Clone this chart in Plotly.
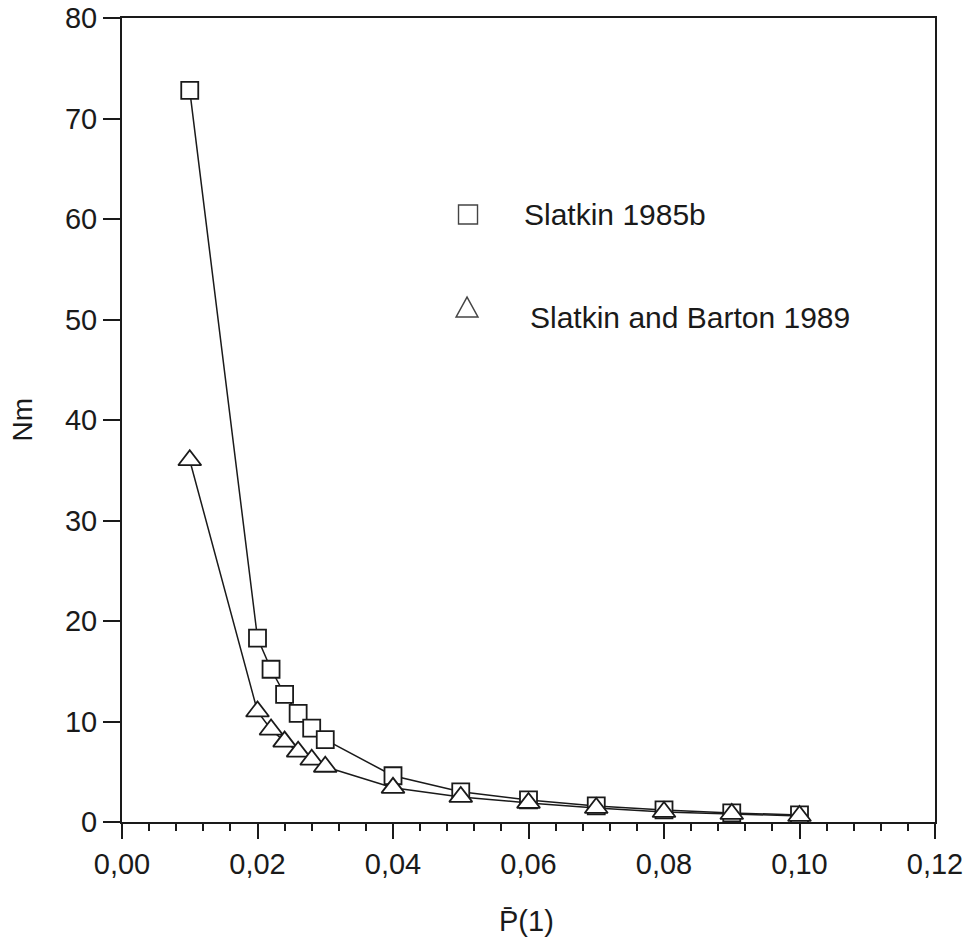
import plotly.graph_objects as go

p_vals = [0.01, 0.02, 0.022, 0.024, 0.026, 0.028, 0.03, 0.04, 0.05, 0.06, 0.07, 0.08, 0.09, 0.10]
nm_slatkin1985 = [72.8, 18.3, 15.2, 12.7, 10.8, 9.35, 8.2, 4.6, 3.0, 2.2, 1.6, 1.2, 0.9, 0.7]
nm_slatkin_barton = [36.0, 11.0, 9.2, 8.0, 7.0, 6.2, 5.5, 3.4, 2.5, 1.9, 1.4, 1.0, 0.8, 0.6]
series_names = ["Slatkin 1985b", "Slatkin and Barton 1989"]
x_ticks = [0.00, 0.02, 0.04, 0.06, 0.08, 0.10, 0.12]
y_ticks = [0, 10, 20, 30, 40, 50, 60, 70, 80]
x_title = "P\u0304(1)"
y_title = "Nm"

ink = "#1a1a1a"
font = "Liberation Sans, Arial, sans-serif"

fig = go.Figure()
fig.add_trace(go.Scatter(
    x=p_vals, y=nm_slatkin1985, mode="lines+markers", name=series_names[0],
    line=dict(color=ink, width=1.5),
    marker=dict(symbol="square", size=17, color="white", line=dict(color=ink, width=1.8)),
    showlegend=False))
fig.add_trace(go.Scatter(
    x=p_vals, y=nm_slatkin_barton, mode="lines+markers", name=series_names[1],
    line=dict(color=ink, width=1.5),
    marker=dict(symbol="triangle-up", size=20, color="white", line=dict(color=ink, width=1.8)),
    showlegend=False))

# legend drawn as shapes + annotations
fig.add_shape(type="rect", xref="paper", yref="paper", xsizemode="pixel", ysizemode="pixel",
              xanchor=0.4256, yanchor=0.7556, x0=-9.5, x1=9.5, y0=-9.5, y1=9.5,
              line=dict(color="#444", width=1.4), fillcolor="white")
fig.add_shape(type="path", xref="paper", yref="paper", xsizemode="pixel", ysizemode="pixel",
              xanchor=0.4244, yanchor=0.6405, path="M -11,-10 L 11,-10 L 0,10 Z",
              line=dict(color="#444", width=1.4), fillcolor="white")
fig.add_annotation(x=0.492, y=0.7550, xref="paper", yref="paper", xanchor="left",
                   yanchor="middle", text=series_names[0], showarrow=False,
                   font=dict(family=font, size=30, color=ink))
fig.add_annotation(x=0.4994, y=0.6269, xref="paper", yref="paper", xanchor="left",
                   yanchor="middle", text=series_names[1], showarrow=False,
                   font=dict(family=font, size=30, color=ink))

# axis titles
fig.add_annotation(x=-0.1235, y=0.5, xref="paper", yref="paper", xanchor="center",
                   yanchor="middle", text=y_title, textangle=-90, showarrow=False,
                   font=dict(family=font, size=28, color=ink))
fig.add_annotation(x=0.498, y=-0.123, xref="paper", yref="paper", xanchor="center",
                   yanchor="middle", text=x_title, showarrow=False,
                   font=dict(family=font, size=29, color=ink))

# page body has an 8px margin: shift margins so the plot area lands at x 122-935, y 18-822
fig.update_layout(
    width=974, height=941,
    margin=dict(l=114, r=47, t=10, b=127),
    paper_bgcolor="white", plot_bgcolor="white",
    separators=", ",
    font=dict(family=font, size=29, color=ink),
    xaxis=dict(range=[0, 0.12], tickvals=x_ticks, tickformat=".2f", automargin=False,
               ticklabeloverflow="allow",
               showgrid=False, zeroline=False, showline=True, linecolor=ink, linewidth=2,
               mirror=True, ticks="outside", ticklen=15, tickwidth=1.5, tickcolor=ink,
               minor=dict(dtick=0.004, ticks="outside", ticklen=7, tickwidth=1.5, tickcolor=ink)),
    yaxis=dict(range=[0, 80], tickvals=y_ticks, showgrid=False, zeroline=False, automargin=False,
               ticklabeloverflow="allow",
               showline=True, linecolor=ink, linewidth=2, mirror=True,
               ticks="outside", ticklen=17, tickwidth=1.5, tickcolor=ink),
)

fig.write_html("out.html")
